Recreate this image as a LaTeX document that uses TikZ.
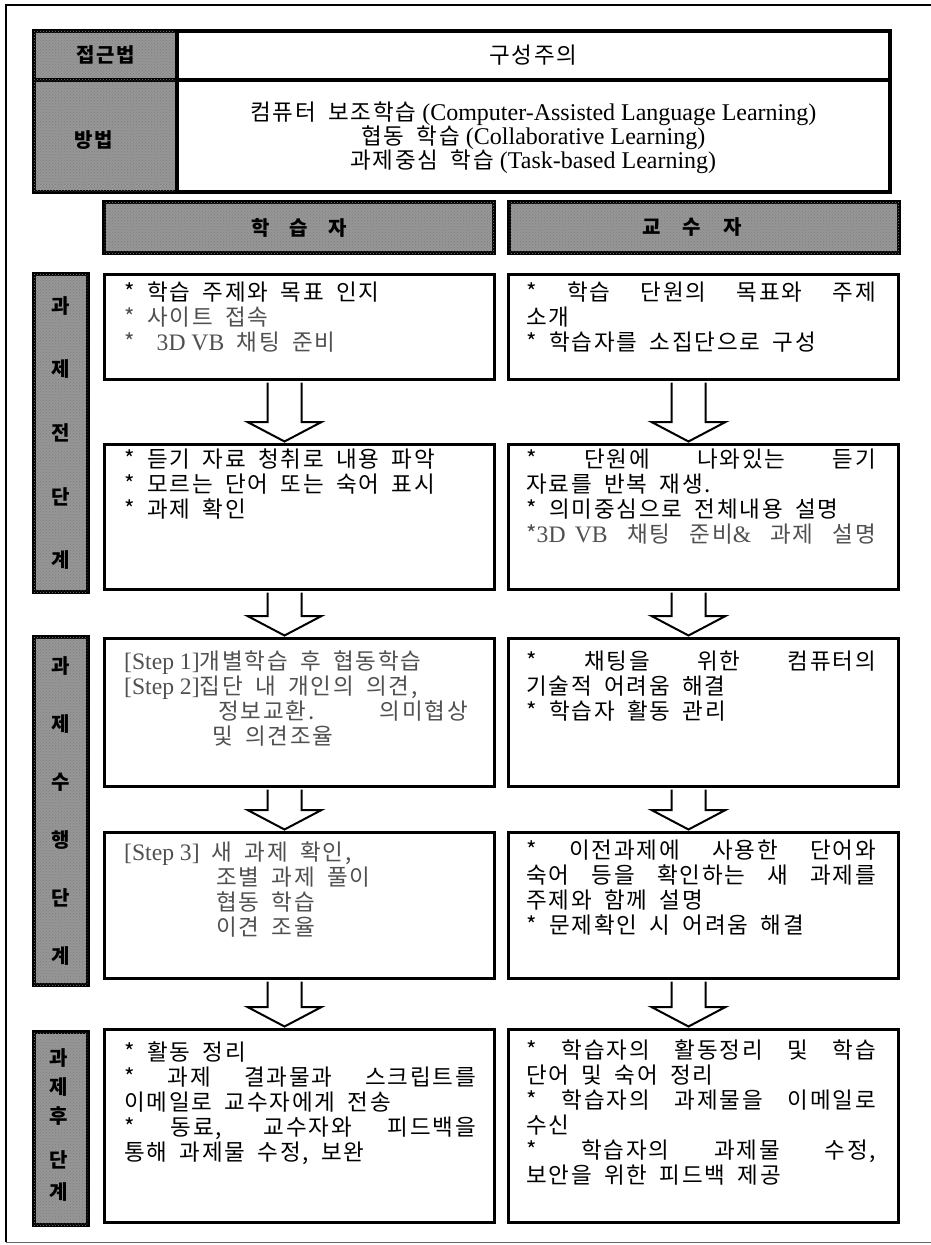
\documentclass[tikz,border=0pt]{standalone}
\usepackage{fontspec}
\setmainfont{Liberation Serif}
\newfontfamily\kr[LetterSpace=8,WordSpace=1.8]{Noto Sans CJK KR}
\newfontfamily\lat[Scale=1.05]{Liberation Serif}
\usetikzlibrary{calc,patterns}
\definecolor{labgray}{RGB}{150,150,150}
\definecolor{lite}{RGB}{80,80,80}
\newcommand\JL[1]{\makebox[352pt][s]{#1}}
\newcommand\JR[1]{\makebox[350pt][s]{#1}}
\newcommand\barrow[2]{%
  \draw[arr] let \p1=($(#1.south)+(-15,0)$), \p2=($(#2.north)+(-15,0)$) in
  (\x1-17pt,\y1-1.5pt) -- (\x1-17pt,\y2+21pt) -- (\x1-37pt,\y2+21pt) -- (\x1,\y2+1.5pt)
  -- (\x1+37pt,\y2+21pt) -- (\x1+17pt,\y2+21pt) -- (\x1+17pt,\y1-1.5pt);}
\begin{document}
\begin{tikzpicture}[x=1pt,y=1pt,
  lab/.style={draw,line width=3.5pt,fill=labgray,inner sep=0pt,anchor=north west,
    postaction={pattern=crosshatch dots,pattern color=black!50}},
  cbox/.style={draw,line width=3pt,fill=white,inner sep=0pt,anchor=north west},
  ltxt/.style={font=\kr\bfseries\fontsize{20}{24}\selectfont,inner sep=0pt},
  plab/.style={inner sep=0pt,align=center},
  btxt/.style={anchor=north west,inner sep=0pt,align=left,font=\kr\fontsize{22.5}{25}\selectfont},
  arr/.style={draw,line width=2pt,fill=white,line join=miter}]
\useasboundingbox (0,0) rectangle (931,-1245);
% outer frame
\draw[line width=1.6pt] (931,-5) -- (6,-5) -- (6,-1242);
\draw[line width=1pt,black!60] (6,-1242) -- (931,-1242);

% top block
\node[lab,minimum width=143pt,minimum height=49pt] (apL) at (32,-29) {};
\node[cbox,line width=3.5pt,minimum width=713pt,minimum height=49pt] (apC) at (175,-29) {};
\node[lab,minimum width=143pt,minimum height=112pt] (mL) at (32,-78) {};
\node[cbox,line width=3.5pt,minimum width=713pt,minimum height=112pt] (mC) at (175,-78) {};
\node[ltxt] (apLt) at (apL.center) {접근법};
\node[ltxt] (mLt) at ($(mL.center)+(-12,-4)$) {방법};
\node[inner sep=0pt,font=\kr\fontsize{22.5}{24}\selectfont] (apCt) at (apC.center) {구성주의};
\node[inner sep=0pt,align=center,font=\rmfamily\fontsize{24}{24}\selectfont] (mCt) at ($(mC.center)+(0,-2)$)
 {{\kr\fontsize{22.5}{24}\selectfont 컴퓨터 보조학습} (Computer-Assisted Language Learning)\\
  {\kr\fontsize{22.5}{24}\selectfont 협동 학습} (Collaborative Learning)\\
  {\kr\fontsize{22.5}{24}\selectfont 과제중심 학습} (Task-based Learning)};

% headers
\node[lab,line width=4pt,minimum width=390pt,minimum height=51pt] (hL) at (102,-200) {};
\node[lab,line width=4pt,minimum width=390pt,minimum height=51pt] (hR) at (507,-200) {};
\node[ltxt] (hLt) at (hL.center) {학\hspace{20pt}습\hspace{20pt}자};
\node[ltxt] (hRt) at ($(hR.center)+(-12,0)$) {교\hspace{22pt}수\hspace{22pt}자};

% phase labels
\node[lab,line width=4pt,minimum width=54pt,minimum height=318pt] (P1) at (32,-272) {};
\node[lab,line width=4pt,minimum width=54pt,minimum height=348pt] (P2) at (32,-635) {};
\node[lab,line width=4pt,minimum width=54pt,minimum height=193pt] (P3) at (32,-1030) {};
\node[plab,font=\kr\bfseries\fontsize{20}{63.6}\selectfont] (P1t) at (P1.center) {과\\제\\전\\단\\계};
\node[plab,font=\kr\bfseries\fontsize{20}{58}\selectfont] (P2t) at (P2.center) {과\\제\\수\\행\\단\\계};
\node[plab,font=\kr\bfseries\fontsize{20}{29}\selectfont] (P3a) at (59,-1087) {과\\제\\후};
\node[plab,font=\kr\bfseries\fontsize{20}{32}\selectfont] (P3b) at (59,-1176) {단\\계};

% content boxes
\node[cbox,minimum width=390pt,minimum height=105pt] (L1) at (103,-273) {};
\node[cbox,minimum width=390pt,minimum height=105pt] (R1) at (507,-273) {};
\node[cbox,minimum width=390pt,minimum height=145pt] (L2) at (103,-443) {};
\node[cbox,minimum width=390pt,minimum height=145pt] (R2) at (507,-443) {};
\node[cbox,minimum width=390pt,minimum height=148pt] (L3) at (103,-637) {};
\node[cbox,minimum width=390pt,minimum height=148pt] (R3) at (507,-637) {};
\node[cbox,minimum width=390pt,minimum height=146pt] (L4) at (103,-831) {};
\node[cbox,minimum width=390pt,minimum height=146pt] (R4) at (507,-831) {};
\node[cbox,minimum width=390pt,minimum height=193pt] (L5) at (103,-1028) {};
\node[cbox,minimum width=390pt,minimum height=193pt] (R5) at (507,-1028) {};

% texts
\node[btxt] (L1t) at (124,-282) {* 학습 주제와 목표 인지\\
 {\color{lite}* 사이트 접속}\\
 {\color{lite}*\hspace{22pt}{\lat 3D VB} 채팅 준비}};
\node[btxt] (R1t) at (526,-282) {\JR{* 학습 단원의 목표와 주제}\\
 소개\\
 * 학습자를 소집단으로 구성};
\node[btxt] (L2t) at (124,-449) {* 듣기 자료 청취로 내용 파악\\
 * 모르는 단어 또는 숙어 표시\\
 * 과제 확인};
\node[btxt] (R2t) at (526,-449) {\JR{* 단원에 나와있는 듣기}\\
 자료를 반복 재생.\\
 * 의미중심으로 전체내용 설명\\
 {\color{lite}\JR{*{\lat 3D VB} 채팅 준비{\lat\&} 과제 설명}}};
\node[btxt,text=lite] (L3t) at (124,-651) {{\lat[Step 1]}개별학습 후 협동학습\\
 {\lat[Step 2]}집단 내 개인의 의견,\\
 \hspace*{94pt}\makebox[250pt][s]{정보교환. 의미협상}\\
 \hspace*{88pt}및 의견조율};
\node[btxt] (R3t) at (526,-651) {\JR{* 채팅을 위한 컴퓨터의}\\
 기술적 어려움 해결\\
 * 학습자 활동 관리};
\node[btxt,text=lite] (L4t) at (124,-842) {{\lat[Step 3]} 새 과제 확인,\\
 \hspace*{92pt}조별 과제 풀이\\
 \hspace*{92pt}협동 학습\\
 \hspace*{92pt}이견 조율};
\node[btxt] (R4t) at (526,-840) {\JR{* 이전과제에 사용한 단어와}\\
 \JR{숙어 등을 확인하는 새 과제를}\\
 주제와 함께 설명\\
 * 문제확인 시 어려움 해결};
\node[btxt] (L5t) at (124,-1041) {* 활동 정리\\
 \JL{* 과제 결과물과 스크립트를}\\
 이메일로 교수자에게 전송\\
 \JL{* 동료, 교수자와 피드백을}\\
 통해 과제물 수정, 보완};
\node[btxt] (R5t) at (526,-1039) {\JR{* 학습자의 활동정리 및 학습}\\
 단어 및 숙어 정리\\
 \JR{* 학습자의 과제물을 이메일로}\\
 수신\\
 \JR{* 학습자의 과제물 수정,}\\
 보안을 위한 피드백 제공};

% arrows
\barrow{L1}{L2}
\barrow{R1}{R2}
\barrow{L2}{L3}
\barrow{R2}{R3}
\barrow{L3}{L4}
\barrow{R3}{R4}
\barrow{L4}{L5}
\barrow{R4}{R5}
\end{tikzpicture}
\end{document}
